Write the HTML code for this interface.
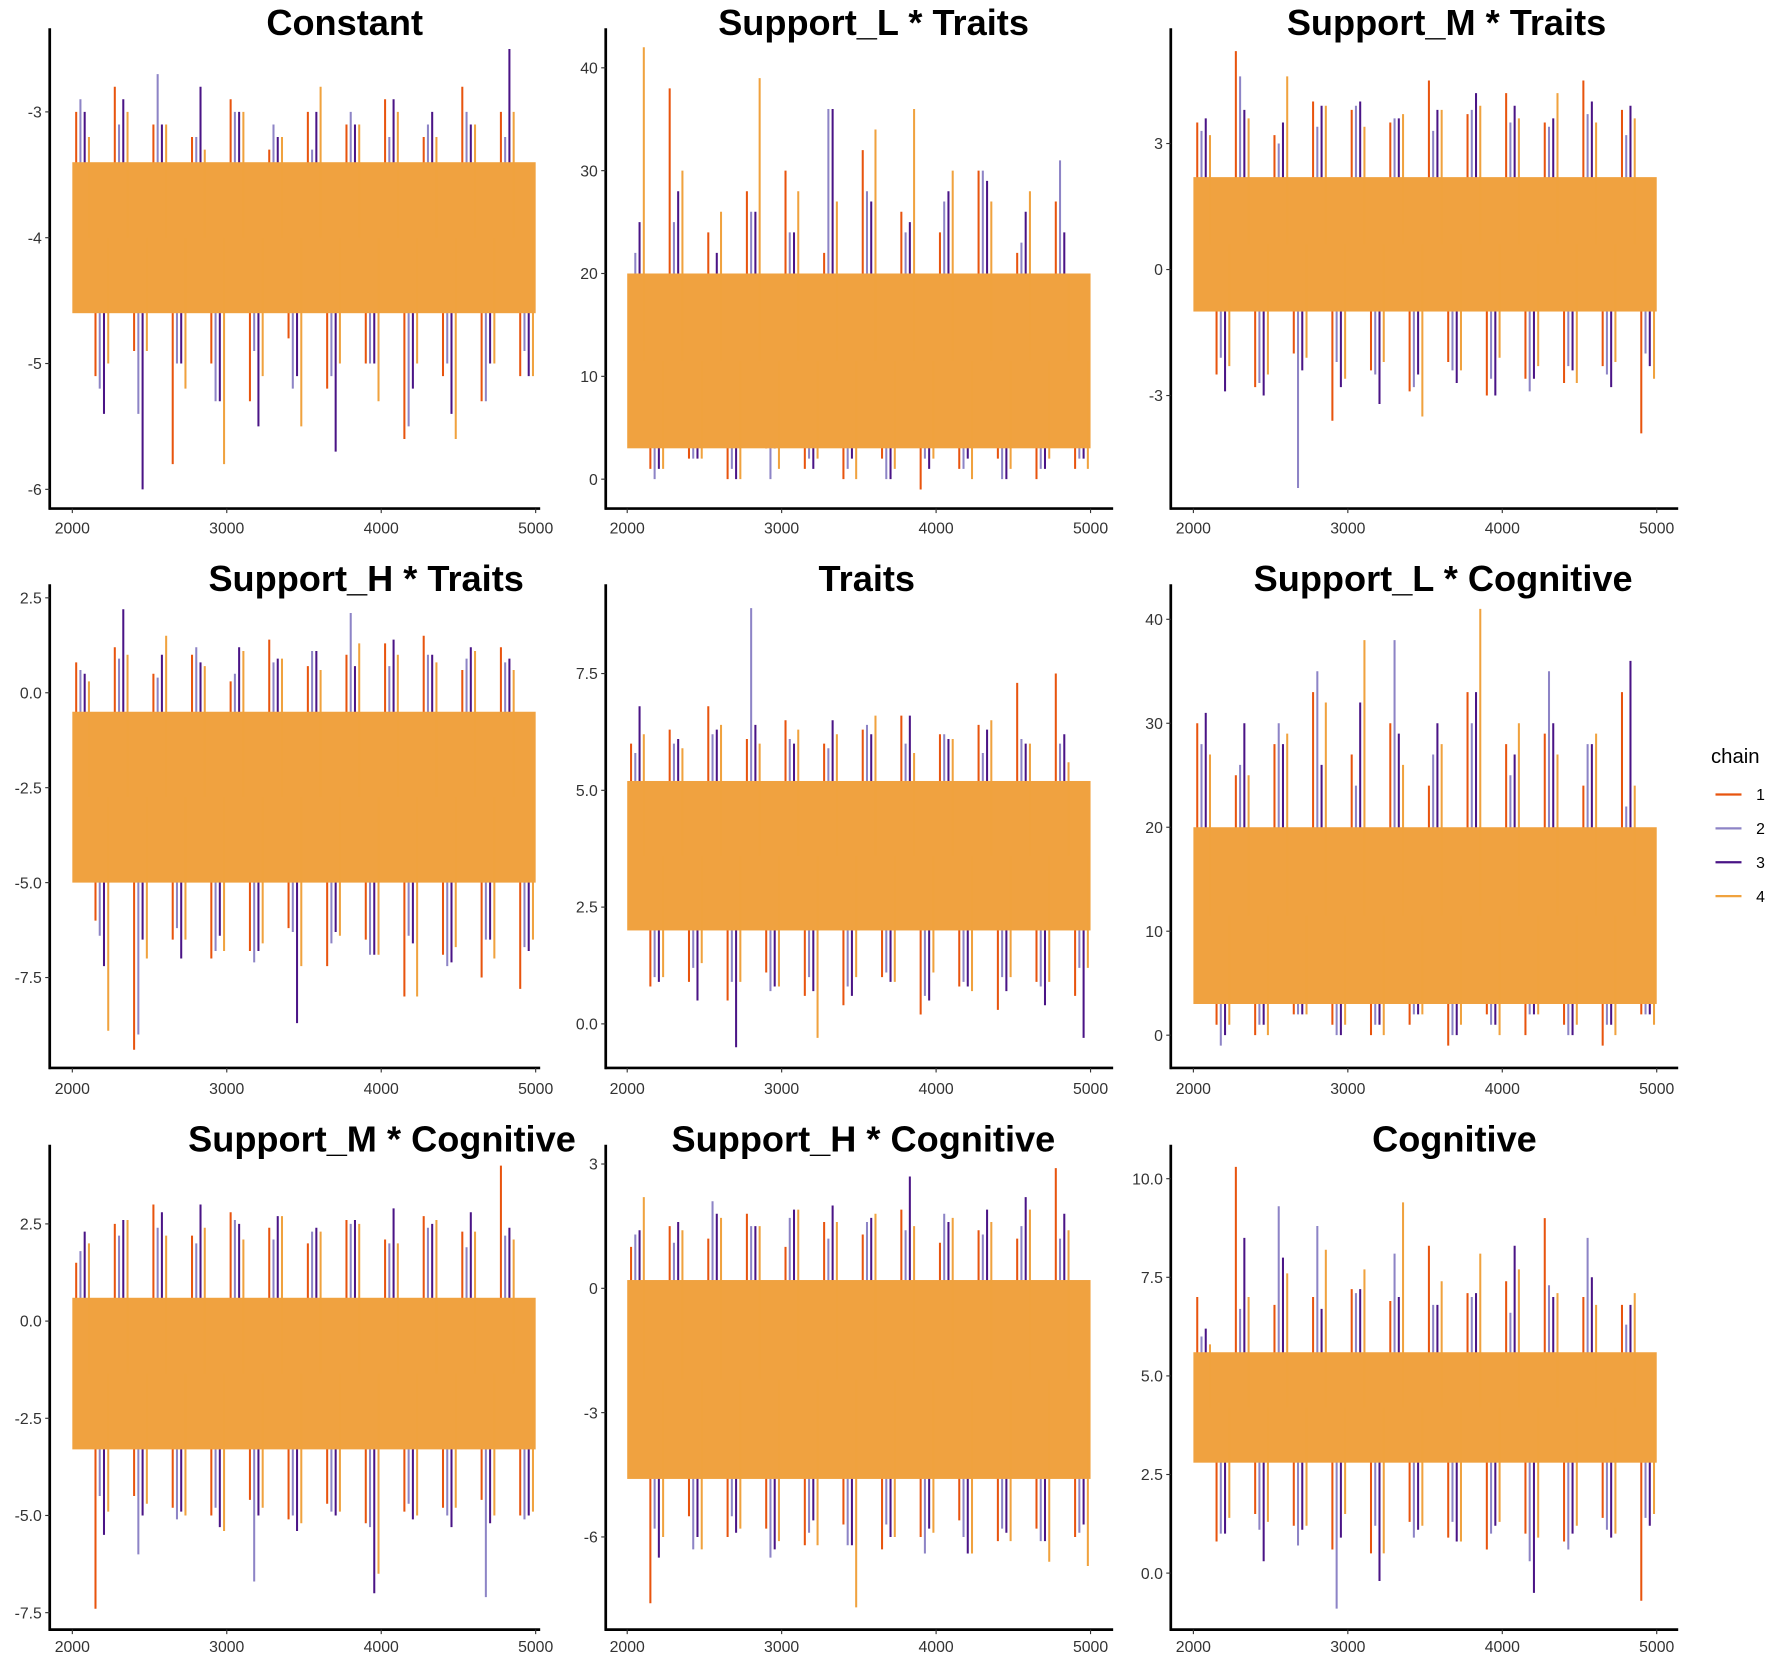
<!DOCTYPE html>
<html><head><meta charset="utf-8"><style>
html,body{margin:0;padding:0;background:#fff}
svg{display:block}
text{font-family:"Liberation Sans",Arial,sans-serif}
</style></head><body>
<svg id="chart" width="1772" height="1659" viewBox="0 0 1568 1468" xmlns="http://www.w3.org/2000/svg"></svg>
<script>
const titles=["Constant","Support_L * Traits","Support_M * Traits","Support_H * Traits","Traits","Support_L * Cognitive","Support_M * Cognitive","Support_H * Cognitive","Cognitive"];
const xTicks=[2000,3000,4000,5000];
const yTicks=[[-3,-4,-5,-6],[40,30,20,10,0],[3,0,-3],[2.5,0,-2.5,-5,-7.5],[7.5,5,2.5,0],[40,30,20,10,0],[2.5,0,-2.5,-5,-7.5],[3,0,-3,-6],[10,7.5,5,2.5,0]];
const yTickLabels=[["-3","-4","-5","-6"],["40","30","20","10","0"],["3","0","-3"],["2.5","0.0","-2.5","-5.0","-7.5"],["7.5","5.0","2.5","0.0"],["40","30","20","10","0"],["2.5","0.0","-2.5","-5.0","-7.5"],["3","0","-3","-6"],["10.0","7.5","5.0","2.5","0.0"]];
const bandLo=[-4.6,3,-1.0,-5.0,2.0,3,-3.3,-4.6,2.8];
const bandHi=[-3.4,20,2.2,-0.5,5.2,20,0.6,0.2,5.6];
const chain1=[
[-3.0,-5.1,-2.8,-4.9,-3.1,-5.8,-3.2,-5.0,-2.9,-5.3,-3.3,-4.8,-3.0,-5.2,-3.1,-5.0,-2.9,-5.6,-3.2,-5.1,-2.8,-5.3,-3.0,-5.1],
[20,1,38,2,24,0,28,3,30,1,22,0,32,2,26,-1,24,1,30,2,22,0,27,1],
[3.5,-2.5,5.2,-2.8,3.2,-2.0,4.0,-3.6,3.8,-2.4,3.5,-2.9,4.5,-2.2,3.7,-3.0,4.2,-2.6,3.5,-2.7,4.5,-2.3,3.8,-3.9],
[0.8,-6.0,1.2,-9.4,0.5,-6.5,1.0,-7.0,0.3,-6.8,1.4,-6.2,0.7,-7.2,1.0,-6.5,1.3,-8.0,1.5,-6.9,0.6,-7.5,1.2,-7.8],
[6.0,0.8,6.3,0.9,6.8,0.5,6.1,1.1,6.5,0.6,6.0,0.4,6.3,1.0,6.6,0.2,6.2,0.8,6.4,0.3,7.3,0.9,7.5,0.6],
[30,1,25,0,28,2,33,1,27,0,30,1,24,-1,33,2,28,0,29,1,24,-1,33,2],
[1.5,-7.4,2.5,-4.5,3.0,-4.8,2.2,-5.0,2.8,-4.6,2.4,-5.1,2.0,-4.7,2.6,-5.2,2.1,-4.9,2.7,-4.8,2.3,-4.6,4.0,-5.0],
[1.0,-7.6,1.5,-5.5,1.2,-6.0,1.8,-5.8,1.0,-6.2,1.6,-5.7,1.3,-6.3,1.9,-6.0,1.1,-5.6,1.4,-6.1,1.2,-5.8,2.9,-6.0],
[7.0,0.8,10.3,1.5,6.8,1.2,7.0,0.6,7.2,0.5,6.9,1.3,8.3,0.9,7.1,0.6,7.4,1.0,9.0,0.8,7.0,1.4,6.8,-0.7]];
const chain2=[
[-2.9,-5.2,-3.1,-5.4,-2.7,-5.0,-3.2,-5.3,-3.0,-4.9,-3.1,-5.2,-3.3,-5.1,-3.0,-5.0,-3.2,-5.5,-3.1,-5.0,-3.0,-5.3,-3.2,-4.9],
[22,0,25,2,18,1,26,0,24,2,36,1,28,0,24,2,27,1,30,0,23,1,31,2],
[3.3,-2.1,4.6,-2.7,3.0,-5.2,3.4,-2.2,3.9,-2.5,3.6,-2.8,3.3,-2.4,3.8,-2.6,3.5,-2.9,3.4,-2.3,3.7,-2.5,3.2,-2.0],
[0.6,-6.4,0.9,-9.0,0.4,-6.2,1.2,-6.8,0.5,-7.1,0.8,-6.3,1.1,-6.6,2.1,-6.9,0.7,-6.4,1.0,-7.2,0.9,-6.5,0.8,-6.7],
[5.8,1.0,6.0,1.2,6.2,0.9,8.9,0.7,6.1,1.0,5.9,0.8,6.4,1.1,6.0,0.6,6.2,0.9,5.8,1.0,6.1,0.8,6.0,1.2],
[28,-1,26,1,30,2,35,0,24,1,38,2,27,0,30,1,25,2,35,0,28,1,22,2],
[1.8,-4.5,2.2,-6.0,2.4,-5.1,2.0,-4.8,2.6,-6.7,2.1,-5.0,2.3,-4.9,2.5,-5.3,2.0,-4.7,2.4,-5.0,1.9,-7.1,2.2,-5.1],
[1.3,-5.8,1.1,-6.3,2.1,-5.5,1.5,-6.5,1.7,-5.9,1.2,-6.2,1.6,-5.7,1.4,-6.4,1.8,-6.0,1.3,-5.8,1.5,-6.1,1.2,-5.9],
[6.0,1.0,6.7,1.1,9.3,0.7,8.8,-0.9,7.1,1.2,8.1,0.9,6.8,1.3,7.0,1.0,6.6,0.3,7.3,0.6,8.5,1.1,6.3,1.4]];
const chain3=[
[-3.0,-5.4,-2.9,-6.0,-3.1,-5.0,-2.8,-5.3,-3.0,-5.5,-3.2,-5.1,-3.0,-5.7,-3.1,-5.0,-2.9,-5.2,-3.0,-5.4,-3.1,-5.0,-2.5,-5.1],
[25,1,28,2,22,0,26,3,24,1,36,2,27,0,25,1,28,2,29,0,26,1,24,2],
[3.6,-2.9,3.8,-3.0,3.5,-2.4,3.9,-2.8,4.0,-3.2,3.6,-2.5,3.8,-2.7,4.2,-3.0,3.9,-2.6,3.6,-2.4,4.0,-2.8,3.9,-2.3],
[0.5,-7.2,2.2,-6.5,1.0,-7.0,0.8,-6.4,1.2,-6.8,0.9,-8.7,1.1,-6.3,0.7,-6.9,1.4,-6.6,1.0,-7.1,1.2,-6.5,0.9,-6.8],
[6.8,0.9,6.1,0.5,6.3,-0.5,6.4,0.8,6.0,0.7,6.5,0.6,6.2,0.9,6.6,0.5,6.1,0.8,6.3,0.7,6.0,0.4,6.2,-0.3],
[31,0,30,1,28,2,26,0,32,1,29,2,30,0,33,1,27,2,30,0,28,1,36,2],
[2.3,-5.5,2.6,-5.0,2.8,-4.9,3.0,-5.3,2.5,-5.0,2.7,-5.4,2.4,-5.0,2.6,-7.0,2.9,-5.1,2.5,-5.3,2.8,-5.2,2.4,-5.0],
[1.4,-6.5,1.6,-6.0,1.8,-5.9,1.5,-6.3,1.9,-5.6,2.0,-6.2,1.7,-6.0,2.7,-5.8,1.6,-6.4,1.9,-5.9,2.2,-6.1,1.8,-5.7],
[6.2,1.0,8.5,0.3,8.0,1.1,6.7,0.9,7.2,-0.2,7.0,1.1,6.8,0.8,7.1,1.2,8.3,-0.5,7.0,1.0,7.5,0.9,6.8,1.2]];
const chain4=[
[-3.2,-5.0,-3.0,-4.9,-3.1,-5.2,-3.3,-5.8,-3.0,-5.1,-3.2,-5.5,-2.8,-5.0,-3.1,-5.3,-3.0,-5.0,-3.2,-5.6,-3.1,-5.0,-3.0,-5.1],
[42,1,30,2,26,0,39,1,28,2,27,0,34,1,36,2,30,0,27,1,28,2,20,1],
[3.2,-2.3,3.6,-2.5,4.6,-2.1,3.9,-2.6,3.4,-2.2,3.7,-3.5,3.8,-2.4,3.9,-2.1,3.6,-2.3,4.2,-2.7,3.5,-2.2,3.6,-2.6],
[0.3,-8.9,1.0,-7.0,1.5,-6.5,0.7,-6.8,1.1,-6.6,0.9,-7.2,0.6,-6.4,1.3,-6.9,1.0,-8.0,0.8,-6.7,1.1,-7.0,0.6,-6.5],
[6.2,1.0,5.9,1.3,6.4,0.9,6.0,0.8,6.3,-0.3,6.2,1.0,6.6,0.9,5.8,1.1,6.1,0.7,6.5,1.0,6.0,0.9,5.6,1.2],
[27,1,25,0,29,2,32,1,38,0,26,2,28,1,41,0,30,2,27,1,29,0,24,1],
[2.0,-4.9,2.6,-4.7,2.2,-5.0,2.4,-5.4,2.1,-4.8,2.7,-5.2,2.3,-4.9,2.5,-6.5,2.0,-5.0,2.6,-4.8,2.3,-5.0,2.1,-4.9],
[2.2,-6.0,1.4,-6.3,1.7,-5.8,1.5,-6.1,1.9,-6.2,1.6,-7.7,1.8,-6.0,1.5,-5.9,1.7,-6.4,1.6,-6.1,1.9,-6.6,1.4,-6.7],
[5.8,1.4,7.0,1.3,7.6,1.2,8.2,1.5,7.7,0.5,9.4,1.2,7.4,0.8,8.1,1.3,7.7,0.9,7.1,1.2,6.8,1.0,7.1,1.5]];
const chainNames=["1","2","3","4"];
const chainColors=["#E8540E","#8D84C6","#4A1486","#F0A23E"];

// layout (pixels in 1568-wide view)
const colX=[[44,64,474,478],[536,555,965,985],[1036,1056,1466,1485]];
const rowY=[[25,450,467],[517,945,963],[1013,1442,1457]];
const yMap=[[-3,99,-6,433],[40,60,0,424],[3,127,-3,350],[2.5,529,-7.5,865],[7.5,596,0,906],[40,548,0,916],[2.5,1083,-7.5,1427],[3,1030,-6,1360],[10,1043,0,1392]];
const titleX=[305,773,1280,324,767,1277,338,764,1287];

const svg=document.getElementById('chart');
const NS="http://www.w3.org/2000/svg";
function mk(tag,attrs,parent){const e=document.createElementNS(NS,tag);for(const k in attrs)e.setAttribute(k,attrs[k]);(parent||svg).appendChild(e);return e;}

for(let p=0;p<9;p++){
  const c=colX[p%3], r=rowY[Math.floor(p/3)], m=yMap[p];
  const xs=v=>c[1]+(v-2000)/3000*(c[2]-c[1]);
  const ys=v=>m[1]+(v-m[0])/(m[2]-m[0])*(m[3]-m[1]);
  const g=mk('g',{});
  
  
  const t=mk('text',{x:titleX[p],y:r[0]+6,'text-anchor':'middle','font-size':32,'font-weight':'bold',fill:'#000'},g);
  t.textContent=titles[p];
  
  
  const chains=[chain1[p],chain2[p],chain3[p]];
  const mid=(bandLo[p]+bandHi[p])/2;
  chains.forEach((arr,k)=>{
    const gg=mk('g',{stroke:chainColors[k],'stroke-width':1.8},g);
    
    
    arr.forEach((v,i)=>{
      const it=2000+(i+0.2+k*0.22)*3000/arr.length;
      const ln=mk('line',{x1:xs(it),x2:xs(it),y1:ys(mid),y2:ys(v)},gg);
      
      
    });
  });
  const band=mk('rect',{x:xs(2000),y:ys(bandHi[p]),width:xs(5000)-xs(2000),height:ys(bandLo[p])-ys(bandHi[p]),fill:'#F0A240'},g);
  
  
  const g4=mk('g',{stroke:chainColors[3],'stroke-width':1.8},g);
  
  
  chain4[p].forEach((v,i)=>{
    const it=2000+(i+0.86)*3000/chain4[p].length;
    const ln=mk('line',{x1:xs(it),x2:xs(it),y1:ys(mid),y2:ys(v)},g4);
    
    
  });
  const ya=mk('line',{x1:c[0],x2:c[0],y1:r[0],y2:r[1]+1,stroke:'#000','stroke-width':2.4},g);
  
  
  const xa=mk('line',{x1:c[0]-1,x2:c[3],y1:r[1],y2:r[1],stroke:'#000','stroke-width':2.4},g);
  
  
  yTicks[p].forEach((v,i)=>{
    mk('line',{x1:c[0]-4,x2:c[0],y1:ys(v),y2:ys(v),stroke:'#333','stroke-width':1},g);
    const tl=mk('text',{x:c[0]-7,y:ys(v)+5,'text-anchor':'end','font-size':14,fill:'#333'},g);
    tl.textContent=yTickLabels[p][i];
    
    
  });
  xTicks.forEach(v=>{
    mk('line',{x1:xs(v),x2:xs(v),y1:r[1],y2:r[1]+4,stroke:'#333','stroke-width':1},g);
    const tl=mk('text',{x:xs(v),y:r[2]+5,'text-anchor':'middle','font-size':14,fill:'#333'},g);
    tl.textContent=String(v);
    
    
  });
}
const lg=mk('g',{});


const lt=mk('text',{x:1514,y:675,'font-size':18,fill:'#000'},lg);
lt.textContent='chain';


const ly=[703,733,763,793];
chainNames.forEach((n,k)=>{
  const e=mk('g',{},lg);
  
  
  mk('line',{x1:1518,x2:1541,y1:ly[k],y2:ly[k],stroke:chainColors[k],'stroke-width':2},e);
  const tx=mk('text',{x:1554,y:ly[k]+5,'font-size':14,fill:'#000'},e);
  tx.textContent=n;
});
</script>
</body></html>
